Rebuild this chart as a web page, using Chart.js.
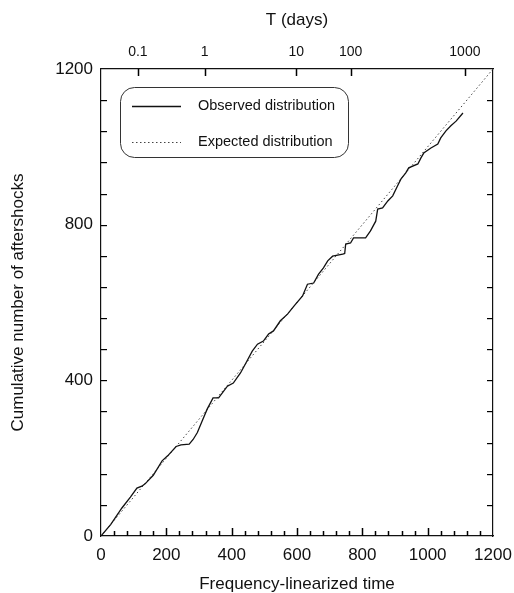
<!DOCTYPE html>
<html>
<head>
<meta charset="utf-8">
<script src="https://cdn.jsdelivr.net/npm/chart.js@4/dist/chart.umd.min.js"></script>
<style>
  html,body{margin:0;padding:0;background:#fff;}
  canvas{display:block;}
</style>
</head>
<body>
<canvas id="c" width="514" height="593"></canvas>
<script>
// ---- data ----
const obsX = [0, 30, 64, 90, 110, 125, 135, 160, 187, 204, 230, 245, 270, 282, 295, 310, 325, 343, 360, 387, 405, 427, 442, 463, 479, 497, 513, 528, 549, 571, 590, 617, 632, 651, 666, 681, 694, 709, 740, 746, 749, 764, 773, 810, 825, 841, 847, 862, 878, 893, 908, 918, 933, 942, 970, 979, 988, 1010, 1031, 1040, 1056, 1071, 1087, 1108];
const obsY = [0, 30, 72, 100, 123, 128, 134, 156, 193, 206, 230, 234, 236, 248, 266, 296, 326, 355, 355, 385, 393, 419, 442, 475, 493, 501, 519, 527, 553, 570, 590, 617, 647, 650, 673, 689, 707, 719, 724, 726, 750, 753, 766, 766, 784, 809, 840, 843, 861, 874, 900, 917, 933, 946, 956, 971, 984, 997, 1007, 1023, 1041, 1054, 1066, 1087];
const expX = [0, 1200];
const expY = [0, 1200];
// top axis: T (days) labels and their frequency-linearized positions
const tLabels = ['0.1', '1', '10', '100', '1000'];
const tPositions = [113, 317, 598, 764, 1114];

const FONT = "'Liberation Sans', Arial, sans-serif";
const INK = '#111';

const inwardTicks = {
  id: 'inwardTicks',
  afterDraw(chart) {
    const {ctx, chartArea: a, scales} = chart;
    ctx.save();
    ctx.fillStyle = '#000';
    scales.x.ticks.forEach(t => {
      const p = Math.round(scales.x.getPixelForValue(t.value));
      const len = (Math.round(t.value) % 200 === 0) ? 8 : 5;
      if (t.value > 0 && t.value < 1200) ctx.fillRect(p - 0.25, a.bottom - len, 1.5, len);
    });
    scales.x2.ticks.forEach(t => {
      const p = Math.round(scales.x2.getPixelForValue(t.value));
      ctx.fillRect(p - 0.25, a.top, 1.5, 7);
    });
    scales.y.ticks.forEach(t => {
      const p = Math.round(scales.y.getPixelForValue(t.value));
      if (t.value > 0 && t.value < 1200) ctx.fillRect(a.left, p, 6, 1.2);
    });
    scales.y2.ticks.forEach(t => {
      const p = Math.round(scales.y2.getPixelForValue(t.value));
      if (t.value > 0 && t.value < 1200) ctx.fillRect(a.right - 6, p, 6, 1.2);
    });
    ctx.restore();
  }
};

const boxLegend = {
  id: 'boxLegend',
  afterDraw(chart) {
    const ctx = chart.ctx;
    const x = 120, y = 87, w = 228, h = 70, r = 14;
    ctx.save();
    ctx.strokeStyle = '#333';
    ctx.lineWidth = 1;
    ctx.beginPath();
    ctx.roundRect(x + 0.5, y + 0.5, w, h, r);
    ctx.stroke();
    chart.data.datasets.forEach((ds, i) => {
      const yy = y + 19 + i * 36;
      ctx.strokeStyle = ds.borderColor;
      ctx.lineWidth = ds.borderWidth;
      ctx.setLineDash(ds.borderDash || []);
      ctx.beginPath();
      ctx.moveTo(132, yy + 0.5);
      ctx.lineTo(181, yy + 0.5);
      ctx.stroke();
      ctx.setLineDash([]);
      ctx.fillStyle = INK;
      ctx.font = '14.5px ' + FONT;
      ctx.textBaseline = 'middle';
      ctx.textAlign = 'left';
      ctx.fillText(ds.label, 198, yy);
    });
    ctx.restore();
  }
};

const toPts = (xs, ys) => xs.map((v, i) => ({x: v, y: ys[i]}));
const noHPad = s => { s.paddingLeft = 0; s.paddingRight = 0; };
const noVPad = s => { s.paddingTop = 0; s.paddingBottom = 0; };

new Chart(document.getElementById('c'), {
  type: 'line',
  data: {
    datasets: [
      {label: 'Observed distribution', data: toPts(obsX, obsY), borderColor: '#111', borderWidth: 1.3,
       pointRadius: 0, tension: 0, xAxisID: 'x', yAxisID: 'y'},
      {label: 'Expected distribution', data: toPts(expX, expY), borderColor: '#444', borderWidth: 1,
       borderDash: [1.5, 2.5], pointRadius: 0, tension: 0, xAxisID: 'x', yAxisID: 'y'}
    ]
  },
  options: {
    responsive: false,
    animation: false,
    layout: {padding: 0},
    plugins: {legend: {display: false}, tooltip: {enabled: false}},
    scales: {
      x: {
        type: 'linear', position: 'bottom', min: 0, max: 1200,
        afterFit(s) { s.height = 57; noHPad(s); },
        grid: {display: false, drawTicks: false},
        border: {display: true, color: INK, width: 1.2},
        ticks: {stepSize: 40, autoSkip: false, maxRotation: 0, padding: 9, color: INK,
                font: {family: FONT, size: 17}, callback: v => (v % 200 === 0 ? String(v) : '')},
        title: {display: true, text: 'Frequency-linearized time', color: INK,
                font: {family: FONT, size: 17, lineHeight: 1}, padding: {top: 0, bottom: 0}}
      },
      x2: {
        type: 'linear', position: 'top', min: 0, max: 1200,
        afterFit(s) { s.height = 69; noHPad(s); },
        afterBuildTicks(s) { s.ticks = tPositions.map(v => ({value: v})); },
        grid: {display: false, drawTicks: false},
        border: {display: true, color: INK, width: 1.2},
        ticks: {autoSkip: false, maxRotation: 0, padding: 8, color: INK,
                font: {family: FONT, size: 14}, callback: (v, i) => tLabels[i]},
        title: {display: true, text: 'T (days)', color: INK,
                font: {family: FONT, size: 17}, padding: {top: 10, bottom: 0}}
      },
      y: {
        type: 'linear', position: 'left', min: 0, max: 1200,
        afterFit(s) { s.width = 101; noVPad(s); },
        grid: {display: false, drawTicks: false},
        border: {display: true, color: INK, width: 1.2},
        ticks: {stepSize: 80, autoSkip: false, padding: 8, color: INK,
                font: {family: FONT, size: 17}, callback: v => (v % 400 === 0 ? String(v) : '')},
        title: {display: true, text: 'Cumulative number of aftershocks', color: INK,
                font: {family: FONT, size: 17}, padding: {top: 8, bottom: 0}}
      },
      y2: {
        type: 'linear', position: 'right', min: 0, max: 1200,
        afterFit(s) { s.width = 21; noVPad(s); },
        grid: {display: false, drawTicks: false},
        border: {display: true, color: INK, width: 1.2},
        ticks: {display: false, stepSize: 80}
      }
    }
  },
  plugins: [inwardTicks, boxLegend]
});
</script>
</body>
</html>
